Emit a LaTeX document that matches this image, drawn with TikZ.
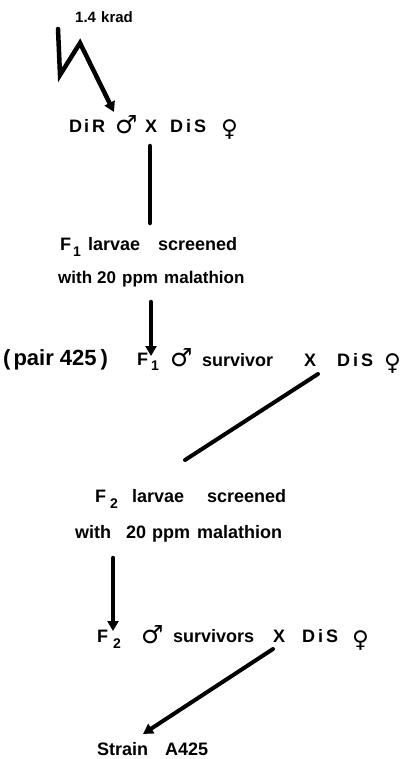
\documentclass[tikz,border=0pt]{standalone}
\usepackage{fontspec}
\setmainfont{Liberation Sans}
\newfontfamily\symf{DejaVu Sans}
\usetikzlibrary{arrows.meta}
\begin{document}
\begin{tikzpicture}[x=1pt,y=-1pt,
  txt/.style={anchor=base west,inner sep=0pt,font=\fontsize{18}{20}\selectfont\bfseries},
  mid/.style={anchor=base west,inner sep=0pt,font=\fontsize{17}{19}\selectfont\bfseries},
  small/.style={anchor=base west,inner sep=0pt,font=\fontsize{15}{17}\selectfont\bfseries},
  big/.style={anchor=base west,inner sep=0pt,font=\fontsize{22}{24}\selectfont\bfseries},
  subs/.style={anchor=base west,inner sep=0pt,font=\fontsize{14}{16}\selectfont\bfseries},
  male/.style={anchor=base west,inner sep=0pt,font=\fontsize{25}{27}\selectfont\symf\bfseries},
  female/.style={anchor=base west,inner sep=0pt,font=\fontsize{23}{25}\selectfont\symf\bfseries},
  ln/.style={line width=4.5pt,line cap=round},
  arr/.style={ln,-{Triangle[width=11pt,length=10pt]}}]
\useasboundingbox (0,0) rectangle (404,759);
% row 0
\node[small] (dose) at (75,23) {1.4};
\node[small] (krad) at (101,23) {krad};
% row 1
\node[txt] (dir) at (69,133) {D\hspace{2pt}i\hspace{3pt}R};
\node[male] (m1) at (115,134) {♂};
\node[txt] (x1) at (145,133) {X};
\node[txt] (dis1) at (170,133) {D\hspace{3pt}i\hspace{3pt}S};
\node[female] (f1) at (221,137) {♀};
% row 2
\node[txt] (F1) at (60,250) {F};
\node[subs] (F1s) at (73,256) {1};
\node[txt] (larv1) at (88,250) {larvae};
\node[txt] (scr1) at (158,250) {screened};
\node[mid] (with1) at (58,283) {with};
\node[mid] (c201) at (97,283) {20};
\node[mid] (ppm1) at (122,283) {ppm};
\node[mid] (mal1) at (164,283) {malathion};
% row 3
\node[big] (pair) at (3,365) {(\hspace{3pt}pair 425\hspace{4pt})};
\node[txt] (F1b) at (137,365) {F};
\node[subs] (F1bs) at (151,370) {1};
\node[male] (m2) at (170,366) {♂};
\node[txt] (surv) at (202,366) {survivor};
\node[txt] (x2) at (304,366) {X};
\node[txt] (dis2) at (337,366) {D\hspace{3pt}i\hspace{3pt}S};
\node[female] (f2) at (384,370) {♀};
% row 4
\node[txt] (F2) at (95,502) {F};
\node[subs] (F2s) at (110,508) {2};
\node[txt] (larv2) at (132,502) {larvae};
\node[txt] (scr2) at (207,502) {screened};
\node[txt] (with2) at (75,538) {with};
\node[txt] (c202) at (126,538) {20};
\node[txt] (ppm2) at (152,538) {ppm};
\node[txt] (mal2) at (197,538) {malathion};
% row 5
\node[txt] (F2b) at (97,642) {F};
\node[subs] (F2bs) at (113,648) {2};
\node[male] (m3) at (141,643) {♂};
\node[txt] (survs) at (173,642) {survivors};
\node[txt] (x3) at (273,642) {X};
\node[txt] (dis3) at (302,642) {D\hspace{3pt}i\hspace{3pt}S};
\node[female] (f3) at (352,647) {♀};
% row 6
\node[txt] (strain) at (97,755) {Strain};
\node[txt] (a425) at (165,755) {A425};
% connectors
\coordinate (z0) at (58,29);
\coordinate (z1) at (60,75);
\coordinate (z2) at (80,43);
\coordinate (z3) at (114,112);
\draw[arr] (z0) -- (z1) -- (z2) -- (z3);
\coordinate (v1a) at (150,146);
\coordinate (v1b) at (150,223);
\draw[ln] (v1a) -- (v1b);
\coordinate (v2a) at (151,302);
\coordinate (v2b) at (151,356);
\draw[arr] (v2a) -- (v2b);
\coordinate (d1a) at (318,374);
\coordinate (d1b) at (185,460);
\draw[ln,line width=4pt] (d1a) -- (d1b);
\coordinate (v3a) at (113,558);
\coordinate (v3b) at (113,631);
\draw[arr] (v3a) -- (v3b);
\coordinate (d2a) at (273,649);
\coordinate (d2b) at (143,734);
\draw[arr,line width=4pt] (d2a) -- (d2b);
\end{tikzpicture}
\end{document}
